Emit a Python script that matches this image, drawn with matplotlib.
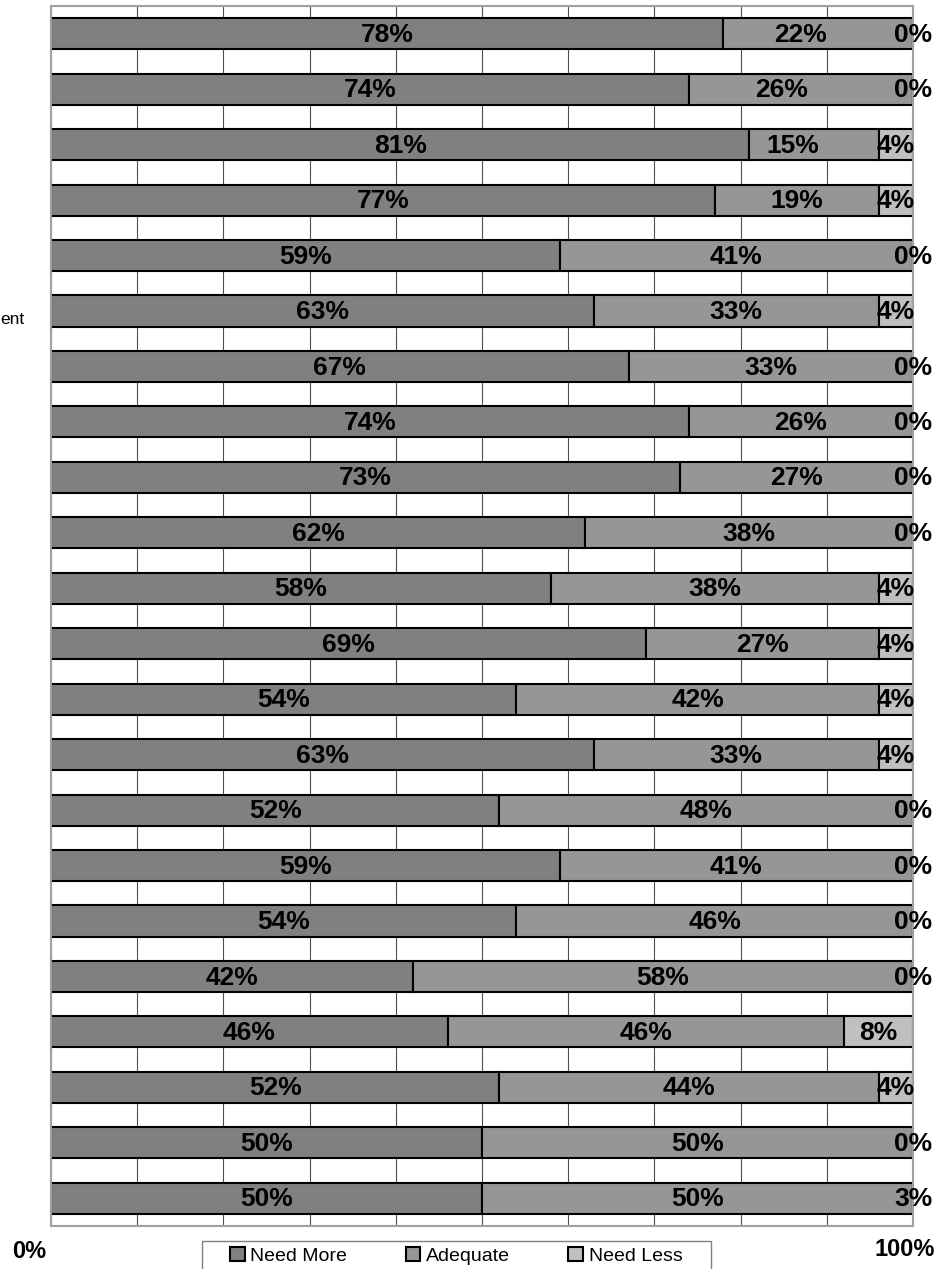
import matplotlib
matplotlib.use("Agg")
import matplotlib.pyplot as plt
from matplotlib.patches import Patch, Rectangle

plt.rcParams['font.family'] = ['Liberation Sans', 'DejaVu Sans']

# valores por linha, de cima para baixo (%)
need_more = [78, 74, 81, 77, 59, 63, 67, 74, 73, 62, 58, 69, 54, 63, 52, 59, 54, 42, 46, 52, 50, 50]
adequate = [22, 26, 15, 19, 41, 33, 33, 26, 27, 38, 38, 27, 42, 33, 48, 41, 46, 58, 46, 44, 50, 50]
need_less = [0, 0, 4, 4, 0, 4, 0, 0, 0, 0, 4, 4, 4, 4, 0, 0, 0, 0, 8, 4, 0, 3]

series_names = ['Need More', 'Adequate', 'Need Less']
series_colors = ['#808080', '#969696', '#c0c0c0']

# no original alguns rotulos ficaram deslocados (linha, serie) -> dx
nudge = {(0, 1): -2.1, (1, 1): -2.3, (2, 1): -2.4}

fig = plt.figure(figsize=(9.49, 12.69), dpi=100)
ax = fig.add_axes([51 / 949, 1 - 1226 / 1269, 862 / 949, 1220 / 1269])

rows = list(range(len(need_more)))
left = [0] * len(rows)
for k, (vals, name, col) in enumerate(zip([need_more, adequate, need_less], series_names, series_colors)):
    ax.barh(rows, vals, left=left, height=0.56, color=col, edgecolor='black',
            linewidth=1.5, label=name, zorder=2)
    for i, v in enumerate(vals):
        xc = min(left[i] + v / 2, 100) + nudge.get((i, k), 0)
        ax.text(xc, i + 0.02, f'{v}%', ha='center', va='center', fontsize=19,
                fontweight='bold', color='black', zorder=3, clip_on=False)
    left = [a + b for a, b in zip(left, vals)]

ax.set_xlim(0, 100)
ax.set_ylim(21.5, -0.5)
ax.set_xticks(range(0, 101, 10))
ax.set_yticks([])
ax.tick_params(axis='x', length=0, labelbottom=False)
ax.grid(axis='x', color='#505050', linewidth=0.8)
ax.set_axisbelow(True)
for s in ax.spines.values():
    s.set_color('#a0a0a0')
    s.set_linewidth(1.5)

# rotulos do eixo x
tr = ax.get_xaxis_transform()
ax.text(-2.5, -0.021, '0%', transform=tr, ha='center', va='center',
        fontsize=17, fontweight='bold', clip_on=False)
ax.text(99, -0.019, '100%', transform=tr, ha='center', va='center',
        fontsize=17, fontweight='bold', clip_on=False)

# pedaco do rotulo cortado na esquerda
fig.text(0.0, 1 - 319 / 1269, 'ent', ha='left', va='center', fontsize=12.5)

# caixa da legenda
fig.patches.append(Rectangle((202 / 949, -0.01), 509 / 949, 1 - 1241 / 1269 + 0.01,
                             transform=fig.transFigure, facecolor='white',
                             edgecolor='#808080', linewidth=1.0))

handles = [Patch(facecolor=c, edgecolor='black', linewidth=1.5) for c in series_colors]
fig.legend(handles, series_names, loc='center left',
           bbox_to_anchor=(230 / 949, 1 - 1256 / 1269), ncol=3,
           fontsize=14, frameon=False,
           handlelength=0.75, handleheight=0.75, handletextpad=0.3,
           columnspacing=3.0, borderpad=0, borderaxespad=0)

fig.savefig('out.png', dpi=100)
